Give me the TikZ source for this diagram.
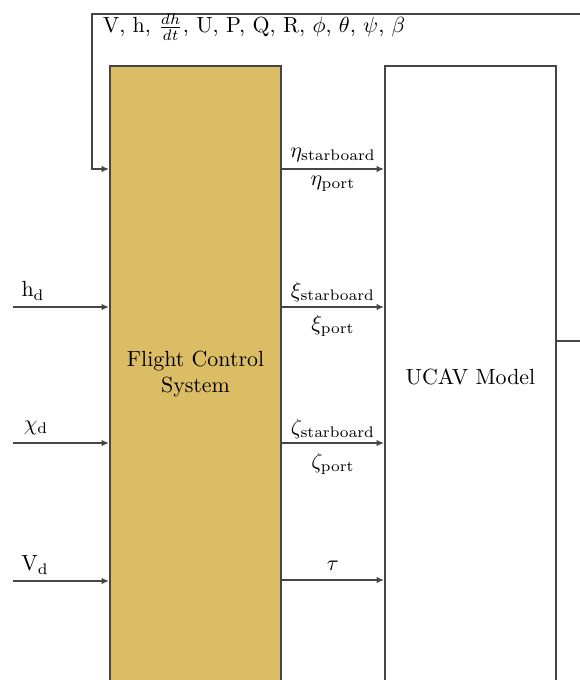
\documentclass[tikz,border=0pt]{standalone}
\usetikzlibrary{arrows.meta}
\definecolor{fcsfill}{RGB}{219,189,102}
\definecolor{ln}{RGB}{70,70,70}
\begin{document}
\begin{tikzpicture}[x=0.4566pt,y=-0.4566pt,line width=0.85pt,
  conn/.style={draw=ln,-{Latex[length=3.4pt,width=3pt]}},
  plain/.style={draw=ln},
  blockbox/.style={draw=ln,minimum width=78.1pt,inner sep=0pt,align=center},
  lab/.style={inner sep=0pt}]
\useasboundingbox (0,0) rectangle (580,680);
\clip (0,0) rectangle (580,680);
% blocks
\node[blockbox,fill=fcsfill,minimum height=281.3pt] (fcs) at (195.5,374) {Flight Control\\System};
\node[blockbox,minimum height=284pt] (ucav) at (470.5,377) {UCAV Model};
% row coordinates
\coordinate (r1) at (0,169);
\coordinate (r2) at (0,307);
\coordinate (r3) at (0,443);
\coordinate (r4) at (0,580);
% inputs
\coordinate (hin) at (13,307);
\coordinate (xin) at (13,443);
\coordinate (vin) at (13,581);
\draw[conn] (hin) -- (hin -| fcs.west);
\draw[conn] (xin) -- (xin -| fcs.west);
\draw[conn] (vin) -- (vin -| fcs.west);
\node[lab] (hl) at (33,291) {h$_{\mathrm{d}}$};
\node[lab] (xl) at (36,428) {$\chi_{\mathrm{d}}$};
\node[lab] (vl) at (35,565) {V$_{\mathrm{d}}$};
% FCS -> UCAV
\draw[conn] (fcs.east |- r1) -- (ucav.west |- r1);
\draw[conn] (fcs.east |- r2) -- (ucav.west |- r2);
\draw[conn] (fcs.east |- r3) -- (ucav.west |- r3);
\draw[conn] (fcs.east |- r4) -- (ucav.west |- r4);
\node[lab] (eta1) at (333,155) {$\eta_{\mathrm{starboard}}$};
\node[lab] (eta2) at (333,184) {$\eta_{\mathrm{port}}$};
\node[lab] (xi1) at (333,292) {$\xi_{\mathrm{starboard}}$};
\node[lab] (xi2) at (333,326) {$\xi_{\mathrm{port}}$};
\node[lab] (ze1) at (333,429) {$\zeta_{\mathrm{starboard}}$};
\node[lab] (ze2) at (333,464) {$\zeta_{\mathrm{port}}$};
\node[lab] (tau) at (333,566) {$\tau$};
% output and feedback
\coordinate (outR) at (600,341);
\draw[plain] (ucav.east |- outR) -- (outR);
\coordinate (fbR) at (600,14);
\coordinate (fbL) at (92,14);
\draw[conn] (fbR) -- (fbL) -- (fbL |- r1) -- (fcs.west |- r1);
\node[lab,anchor=base west] (fbl) at (102,33) {V, h, $\frac{dh}{dt}$, U, P, Q, R, $\phi$, $\theta$, $\psi$, $\beta$};
\end{tikzpicture}
\end{document}
